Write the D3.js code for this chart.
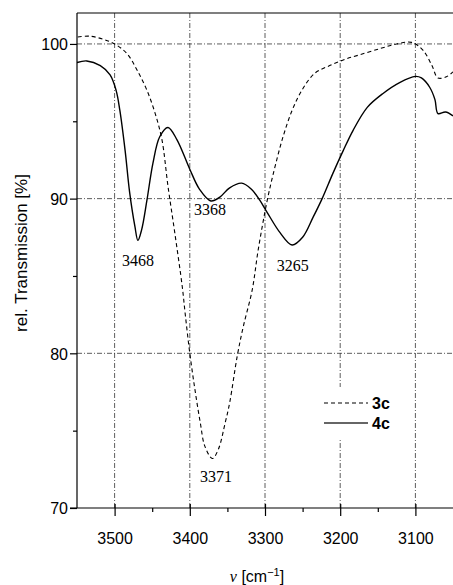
<!DOCTYPE html>
<html>
<head>
<meta charset="utf-8">
<script src="https://cdn.jsdelivr.net/npm/d3@7"></script>
<style>
  body { margin: 0; background: #fff; }
  svg { display: block; }
  .axis path, .axis line { stroke: #000; stroke-width: 1.2; }
  .axis text { font-family: "Liberation Sans", Arial, sans-serif; font-size: 16px; fill: #000; }
</style>
</head>
<body>
<svg id="chart" width="453" height="585"></svg>
<script>
// 3c (dashed)
const nu3c = [3549, 3533, 3515, 3500, 3484, 3470, 3457, 3446, 3437, 3429, 3420, 3410, 3406, 3400,
  3393, 3386, 3380, 3370, 3362, 3353, 3347, 3337, 3329, 3317, 3309, 3297, 3287, 3276, 3264,
  3251, 3234, 3214, 3194, 3174, 3147, 3125, 3105, 3090, 3078, 3070, 3058, 3050];
const t3c = [100.45, 100.5, 100.3, 100.0, 99.4, 98.3, 97.0, 95.5, 93.8, 90.8, 87.8, 84.3, 82.5, 80.0,
  77.6, 75.5, 74.0, 73.2, 73.8, 75.5, 76.8, 79.8, 81.7, 84.1, 86.7, 89.9, 92.0, 94.0, 95.7,
  97.0, 98.1, 98.6, 99.0, 99.3, 99.7, 100.0, 100.1, 99.6, 98.6, 97.8, 97.9, 98.2];

// 4c (solid)
const nu4c = [3550, 3537, 3519, 3506, 3498, 3493, 3486, 3480, 3473, 3469, 3464, 3457, 3449, 3440,
  3429, 3417, 3400, 3387, 3372, 3360, 3347, 3331, 3318, 3307, 3297, 3280, 3264, 3250, 3236,
  3224, 3210, 3196, 3183, 3164, 3143, 3121, 3100, 3092, 3081, 3074, 3070, 3060, 3050];
const t4c = [98.8, 98.9, 98.6, 98.0, 97.0, 95.7, 93.1, 90.4, 88.2, 87.3, 88.0, 89.9, 92.3, 94.0,
  94.6, 93.8, 91.9, 90.6, 89.85, 90.1, 90.7, 91.0, 90.6, 89.9, 89.1, 87.8, 87.0, 87.5, 88.8,
  90.0, 91.6, 93.1, 94.4, 95.9, 96.8, 97.5, 97.9, 97.8, 97.2, 96.4, 95.5, 95.6, 95.35];

const xMajor = [3500, 3400, 3300, 3200, 3100];
const xMinor = [3450, 3350, 3250, 3150];
const yMajor = [70, 80, 90, 100];
const yMinor = [75, 85, 95];

// peak labels: text, anchor wavenumber, anchor transmission
const peakText = ["3468", "3368", "3265", "3371"];
const peakNu = [3469, 3373, 3263, 3365];
const peakT = [85.65, 88.94, 85.3, 71.7];

const seriesNames = ["3c", "4c"];

const margin = { top: 13, right: 0, bottom: 77, left: 77 };
const width = 453, height = 585;
const w = width - margin.left - margin.right;
const h = height - margin.top - margin.bottom;

const svg = d3.select("#chart");

const x = d3.scaleLinear().domain([3550, 3050]).range([0, w]);
const y = d3.scaleLinear().domain([70, 102]).range([h, 0]);

const g = svg.append("g").attr("transform", `translate(${margin.left},${margin.top})`);

svg.append("defs").append("clipPath").attr("id", "plot")
  .append("rect").attr("width", w).attr("height", h);

// grid
const grid = g.append("g")
  .attr("stroke", "#333").attr("stroke-width", 0.8)
  .attr("stroke-dasharray", "5,2,1,2").attr("fill", "none");
grid.selectAll(".gx").data(xMajor).enter().append("line")
  .attr("x1", d => x(d)).attr("x2", d => x(d)).attr("y1", 0).attr("y2", h);
grid.selectAll(".gy").data([80, 90, 100]).enter().append("line")
  .attr("y1", d => y(d)).attr("y2", d => y(d)).attr("x1", 0).attr("x2", w);

// curves
const line = d3.line()
  .x(d => x(d[0])).y(d => y(d[1]))
  .curve(d3.curveCatmullRom.alpha(0.5));

const curves = g.append("g").attr("clip-path", "url(#plot)");
curves.append("path")
  .datum(d3.zip(nu3c, t3c))
  .attr("d", line).attr("fill", "none")
  .attr("stroke", "#000").attr("stroke-width", 1.1)
  .attr("stroke-dasharray", "4,3");
curves.append("path")
  .datum(d3.zip(nu4c, t4c))
  .attr("d", line).attr("fill", "none")
  .attr("stroke", "#000").attr("stroke-width", 1.4);

// peak labels
g.selectAll(".peak").data(peakText).enter().append("text")
  .attr("x", (d, i) => x(peakNu[i]))
  .attr("y", (d, i) => y(peakT[i]))
  .attr("text-anchor", "middle")
  .attr("font-family", "'Liberation Serif', 'Times New Roman', serif")
  .attr("font-size", 16)
  .text(d => d);

// legend
const legend = g.append("g").attr("transform", `translate(${324 - margin.left},${403 - margin.top})`);
legend.append("rect").attr("x", -6).attr("y", -16).attr("width", 94).attr("height", 51).attr("fill", "#fff");
legend.selectAll(".lg").data(seriesNames).enter().append("line")
  .attr("x1", 0).attr("x2", 44)
  .attr("y1", (d, i) => i * 20).attr("y2", (d, i) => i * 20)
  .attr("stroke", (d, i) => i === 0 ? "#000" : "#333")
  .attr("stroke-width", (d, i) => i === 0 ? 1.1 : 1.6)
  .attr("stroke-dasharray", (d, i) => i === 0 ? "4,3" : null);
legend.selectAll(".lt").data(seriesNames).enter().append("text")
  .attr("x", 48).attr("y", (d, i) => i * 20 + 6)
  .attr("font-family", "'Liberation Sans', Arial, sans-serif")
  .attr("font-size", 16).attr("font-weight", "bold")
  .text(d => d);

// axes
const xAxis = g.append("g").attr("class", "axis")
  .attr("transform", `translate(0,${h})`)
  .call(d3.axisBottom(x).tickValues(xMajor).tickSize(8).tickSizeOuter(0).tickFormat(d3.format("d")));
xAxis.select(".domain").attr("d", `M-7,0H${w}`);
xAxis.selectAll(".tick line").attr("y1", -4);
xAxis.selectAll(".tick text").attr("dy", "1.55em");

g.append("g").attr("class", "axis")
  .attr("transform", `translate(0,${h})`)
  .call(d3.axisBottom(x).tickValues(xMinor).tickSize(4).tickFormat(""))
  .select(".domain").remove();

const yAxis = g.append("g").attr("class", "axis")
  .call(d3.axisLeft(y).tickValues(yMajor).tickSize(7).tickSizeOuter(0).tickFormat(d3.format("d")));
yAxis.select(".domain").attr("d", `M0,${h}V0`);
yAxis.selectAll(".tick text").attr("x", -9).attr("dy", "0.36em");

g.append("g").attr("class", "axis")
  .call(d3.axisLeft(y).tickValues(yMinor).tickSize(4).tickFormat(""))
  .select(".domain").remove();

// top frame line
g.append("line").attr("x1", 0).attr("x2", w).attr("y1", 0).attr("y2", 0)
  .attr("stroke", "#000").attr("stroke-width", 1.2);

// axis titles
svg.append("text")
  .attr("transform", "translate(27,253) rotate(-90)")
  .attr("text-anchor", "middle")
  .attr("font-family", "'Liberation Sans', Arial, sans-serif")
  .attr("font-size", 17)
  .text("rel. Transmission [%]");

const xt = svg.append("text")
  .attr("x", 257).attr("y", 582)
  .attr("text-anchor", "middle")
  .attr("font-family", "'Liberation Sans', Arial, sans-serif")
  .attr("font-size", 16);
xt.append("tspan").attr("font-family", "'Liberation Serif', serif").attr("font-style", "italic").text("ν");
xt.append("tspan").text(" [cm");
xt.append("tspan").attr("font-size", 11).attr("dy", -6).text("−1");
xt.append("tspan").attr("dy", 6).text("]");
</script>
</body>
</html>
